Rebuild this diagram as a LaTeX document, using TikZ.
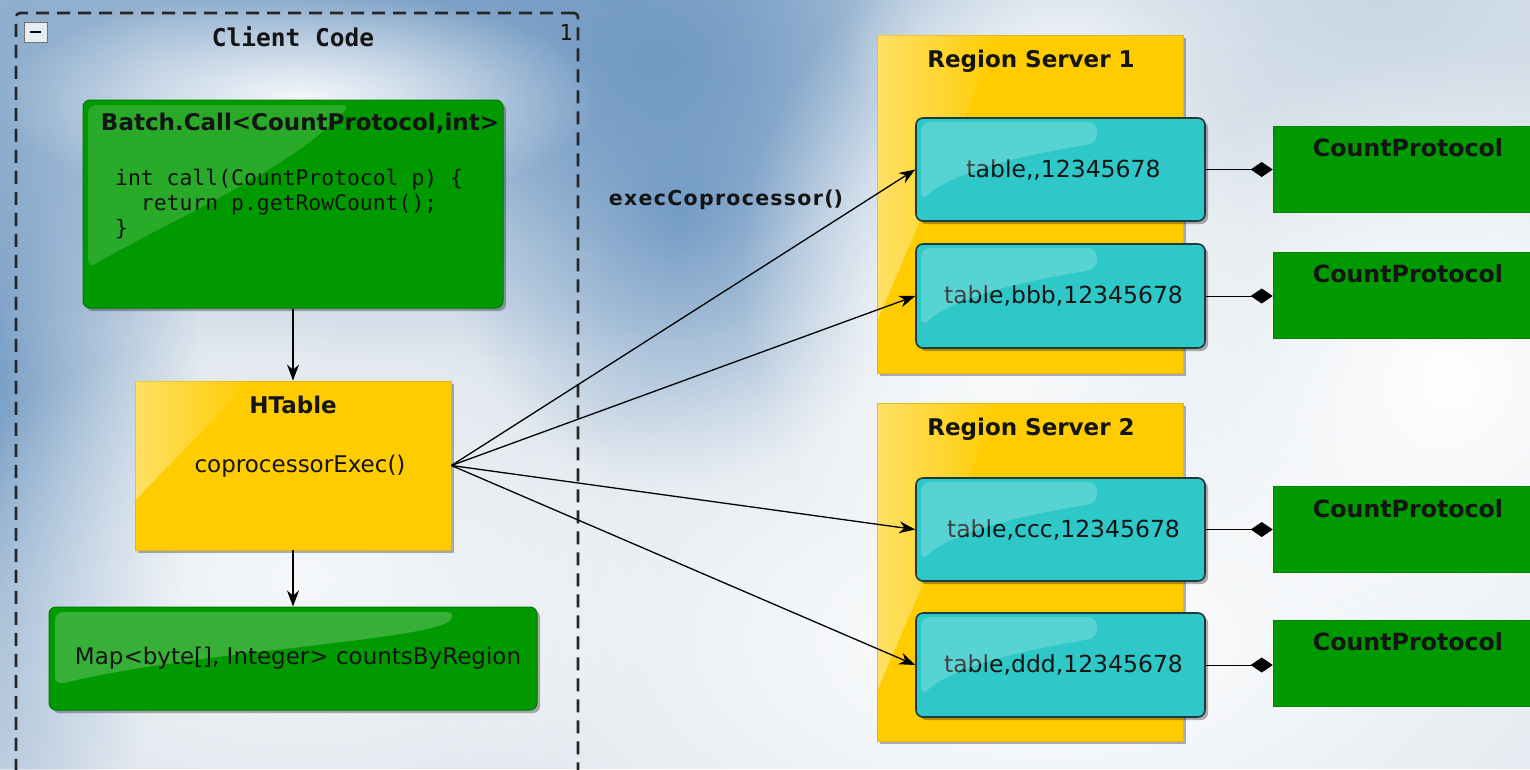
\documentclass[tikz,border=0pt]{standalone}
\usepackage{fontspec}
\setmainfont{DejaVu Sans}
\newfontfamily\codefont{DejaVu Sans Mono}
\usetikzlibrary{arrows.meta,shadows,fadings}
\definecolor{bgbase}{HTML}{E0E7EE}
\definecolor{skyA}{HTML}{6893BF}
\definecolor{skyB}{HTML}{789FC7}
\definecolor{skyC}{HTML}{C9D7E4}
\definecolor{greenF}{HTML}{009A00}
\definecolor{greenD}{HTML}{007A00}
\definecolor{yellowF}{HTML}{FFCC00}
\definecolor{yellowD}{HTML}{E8B800}
\definecolor{cyanF}{HTML}{2EC8C8}
\definecolor{cyanD}{HTML}{1E3A3A}
\definecolor{inkC}{HTML}{141414}
\tikzfading[name=softblob, inner color=transparent!0, outer color=transparent!100]
\tikzfading[name=fadeR, left color=transparent!0, right color=transparent!100]
\begin{document}
\begin{tikzpicture}[x=1pt,y=-1pt,
  shad/.style={drop shadow={shadow xshift=3pt,shadow yshift=-3pt,opacity=0.3,fill=black}},
  greenbox/.style={shad,draw=greenD,fill=greenF,rounded corners=7pt,line width=1pt,inner sep=0pt},
  yellowbox/.style={shad,draw=yellowD,fill=yellowF,line width=0.8pt,inner sep=0pt},
  cyanbox/.style={shad,draw=cyanD,fill=cyanF,rounded corners=7pt,line width=1.6pt,inner sep=0pt,text=inkC,font=\fontsize{23.5}{27}\selectfont},
  cpbox/.style={draw=greenD!60!greenF,fill=greenF,line width=0.6pt,inner sep=0pt,minimum width=262pt,minimum height=86pt},
  frame/.style={draw=black!85,line width=2.6pt,dash pattern=on 13pt off 8pt,rounded corners=4pt,inner sep=0pt},
  ttl/.style={font=\bfseries\fontsize{23}{27}\selectfont,text=inkC,anchor=base,inner sep=0pt},
  cpttl/.style={font=\bfseries\fontsize{23.7}{27}\selectfont,text=inkC,anchor=base,inner sep=0pt},
  txt/.style={font=\fontsize{23}{27}\selectfont,text=inkC,inner sep=0pt},
  code/.style={font=\codefont\fontsize{21.4}{25}\selectfont,text=inkC,anchor=base west,inner sep=0pt},
  conn/.style={-{Stealth[length=16pt,width=12pt]},line width=1.3pt,black},
  diam/.style={-{Diamond[length=22pt,width=15pt]},line width=1pt,black},
  gloss/.style={fill=white,opacity=0.16}
]
\useasboundingbox (0,0) rectangle (1530,769);
\clip (0,0) rectangle (1530,769);
% sky background
\fill[bgbase] (0,0) rectangle (1530,769);
\fill[skyA,path fading=softblob] (420,-80) ellipse (900 and 440);
\fill[skyA,path fading=softblob] (-40,380) ellipse (240 and 560);
\fill[skyB,path fading=softblob] (680,210) ellipse (240 and 280);
\fill[skyA,opacity=0.7,path fading=softblob] (660,60) ellipse (260 and 200);
\fill[skyC,path fading=softblob] (1380,0) ellipse (420 and 240);
\fill[white,opacity=0.9,path fading=softblob] (300,100) ellipse (300 and 110);
\fill[white,path fading=softblob] (1000,280) ellipse (260 and 330);
\fill[white,path fading=softblob] (1050,640) ellipse (650 and 330);
\fill[white,path fading=softblob] (1450,380) ellipse (350 and 330);
\fill[white,opacity=0.7,path fading=softblob] (300,580) ellipse (380 and 260);
\fill[white,opacity=0.6,path fading=softblob] (1060,40) ellipse (220 and 140);

% client code frame
\node[frame,minimum width=562pt,minimum height=790pt] (client) at (297,408) {};
\node[draw=black!55,fill=white!80!skyB,line width=1pt,minimum width=23pt,minimum height=20pt,inner sep=0pt] (collapse) at (36,32) {};
\draw[line width=2.6pt,black] (collapse.west) ++(6,0) -- ++(11,0);
\node[font=\codefont\fontsize{22}{26}\selectfont,text=inkC,inner sep=0pt] (mult) at (566,32) {1};
\node[font=\codefont\bfseries\fontsize{24.5}{28}\selectfont,text=inkC,anchor=base,inner sep=0pt] (clientT) at (293,46) {Client Code};

% batch call box
\node[greenbox,minimum width=420pt,minimum height=208pt] (batch) at (293,204) {};
\fill[gloss,rounded corners=8pt] (88,105) -- (350,105) .. controls (290,170) and (180,215) .. (88,268) -- cycle;
\node[ttl] (batchT) at (300,130) {Batch.Call<CountProtocol,int>};
\node[code] (c1) at (115,185) {int call(CountProtocol p) \{};
\node[code] (c2) at (115,210) {\hphantom{xx}return p.getRowCount();};
\node[code] (c3) at (115,235) {\}};

% HTable
\node[yellowbox,minimum width=316pt,minimum height=169pt] (htable) at (293,465.5) {};
\fill[white,opacity=0.4,path fading=fadeR] (135.5,381.5) -- (250,381.5) -- (135.5,500) -- cycle;
\node[ttl] (htableT) at (293,413) {HTable};
\node[txt] (htableM) at (300,466) {coprocessorExec()};

% Map result
\node[greenbox,minimum width=488pt,minimum height=103pt] (map) at (293,658.5) {};
\fill[fill=white,opacity=0.22,rounded corners=8pt] (55,612) -- (455,612) .. controls (440,640) and (200,650) .. (55,685) -- cycle;
\node[txt] (mapT) at (298,658) {Map<byte[], Integer> countsByRegion};

% arrows in client
\draw[conn] (batch.south) -- (htable.north);
\draw[conn] (htable.south) -- (map.north);

% region servers
\node[yellowbox,minimum width=306pt,minimum height=338pt] (rs1) at (1030,204) {};
\fill[white,opacity=0.4,path fading=fadeR] (877.5,35.5) -- (1000,35.5) -- (877.5,320) -- cycle;
\node[ttl] (rs1T) at (1031,67) {Region Server 1};
\node[yellowbox,minimum width=306pt,minimum height=338pt] (rs2) at (1030,572) {};
\fill[white,opacity=0.4,path fading=fadeR] (877.5,403.5) -- (1000,403.5) -- (877.5,690) -- cycle;
\node[ttl] (rs2T) at (1031,435) {Region Server 2};

% regions
\node[cyanbox,minimum width=289pt,minimum height=103pt] (r1) at (1060.5,169.5) {\hspace*{6pt}table{,}{,}12345678};
\node[cyanbox,minimum width=289pt,minimum height=104pt] (r2) at (1060.5,296) {\hspace*{6pt}table,bbb,12345678};
\node[cyanbox,minimum width=289pt,minimum height=103pt] (r3) at (1060.5,529.5) {\hspace*{6pt}table,ccc,12345678};
\node[cyanbox,minimum width=289pt,minimum height=104pt] (r4) at (1060.5,665) {\hspace*{6pt}table,ddd,12345678};
\foreach \yy in {121,247,481,616}{
  \fill[white,opacity=0.2,rounded corners=9pt] (921,\yy+1) -- (1097,\yy+1) -- (1097,\yy+22) .. controls (1050,\yy+30) and (960,\yy+45) .. (921,\yy+80) -- cycle;
}

% count protocol boxes
\node[cpbox] (p1) at (1404,169) {};
\node[cpbox] (p2) at (1404,295) {};
\node[cpbox] (p3) at (1404,529) {};
\node[cpbox] (p4) at (1404,663) {};
\node[cpttl] (p1T) at (1408,156) {CountProtocol};
\node[cpttl] (p2T) at (1408,282) {CountProtocol};
\node[cpttl] (p3T) at (1408,517) {CountProtocol};
\node[cpttl] (p4T) at (1408,650) {CountProtocol};

% connectors
\draw[diam] (r1.east) -- (r1.east -| p1.west);
\draw[diam] (r2.east) -- (r2.east -| p2.west);
\draw[diam] (r3.east) -- (r3.east -| p3.west);
\draw[diam] (r4.east) -- (r4.east -| p4.west);

\draw[conn] (htable.east) -- (r1.west);
\draw[conn] (htable.east) -- (r2.west);
\draw[conn] (htable.east) -- (r3.west);
\draw[conn] (htable.east) -- (r4.west);
\node[ttl,font=\bfseries\fontsize{20.5}{24}\selectfont] (execL) at (726,205) {e\kern1.3pt x\kern1.3pt e\kern1.3pt c\kern1.3pt C\kern1.3pt o\kern1.3pt p\kern1.3pt r\kern1.3pt o\kern1.3pt c\kern1.3pt e\kern1.3pt s\kern1.3pt s\kern1.3pt o\kern1.3pt r\kern1.3pt ()};
\end{tikzpicture}
\end{document}
